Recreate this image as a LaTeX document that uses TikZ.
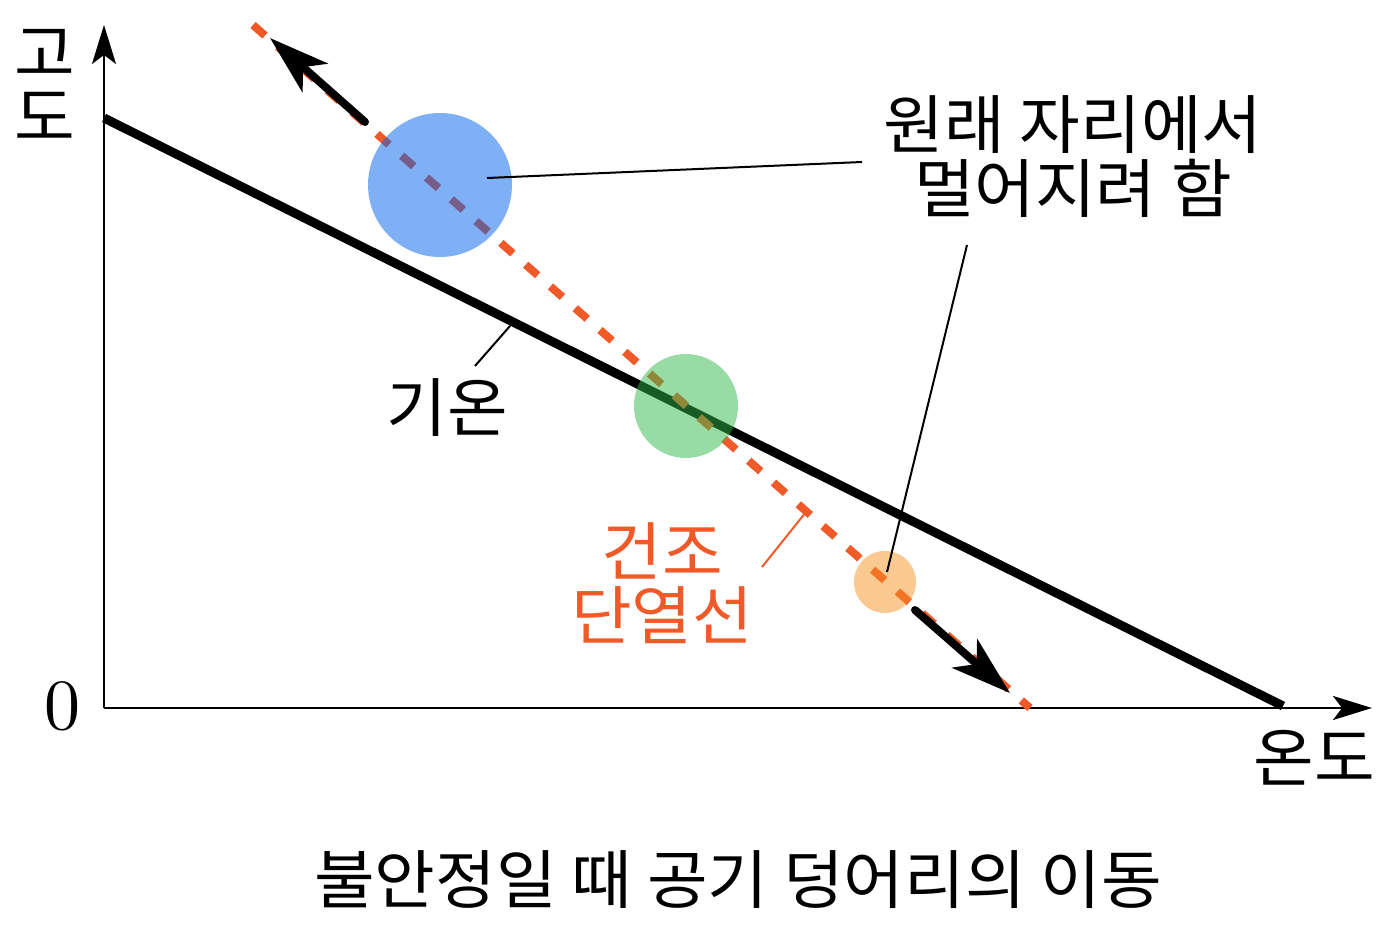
\documentclass[tikz,border=0pt]{standalone}
\usepackage{fontspec}
\setmainfont{Noto Sans CJK KR}[FakeStretch=1.03]
\newfontfamily\lmfont{lmroman10-regular}[Extension=.otf]
\usetikzlibrary{arrows.meta}
\definecolor{dryorange}{RGB}{240,90,40}
\definecolor{parcelblue}{RGB}{0,97,235}
\definecolor{parcelgreen}{RGB}{51,183,75}
\definecolor{parcelorange}{RGB}{245,145,35}
\begin{document}
\begin{tikzpicture}[x=1pt,y=-1pt,
  axis/.style={line width=2.5pt,-{Stealth[length=39pt,width=24pt,inset=9pt]}},
  tline/.style={line width=9pt},
  adiab/.style={draw=dryorange,line width=8pt,dash pattern=on 16pt off 17pt},
  parcel/.style={circle,inner sep=0pt,draw=none,fill opacity=0.5},
  movearrow/.style={line width=8pt,line cap=round,-{Stealth[length=60pt,width=38pt,inset=16pt]}},
  leader/.style={line width=2pt},
  lbl/.style={font=\fontsize{64}{64}\selectfont,align=center,inner sep=0pt},
]
\useasboundingbox (0,0) rectangle (1393,931);
% axes
\coordinate (origin) at (104,708);
\coordinate (ytip) at (104,25);
\coordinate (xtip) at (1372,708);
\draw[axis] (origin) -- (ytip);
\draw[axis] (origin) -- (xtip);
% temperature line
\coordinate (t1) at (104,118);
\coordinate (t2) at (1283,706);
\draw[tline] (t1) -- (t2);
% dry adiabat
\coordinate (d1) at (253,25);
\coordinate (d2) at (1030,708);
\draw[adiab] (d1) -- (d2);
% movement arrows
\coordinate (a1s) at (365,122);
\coordinate (a1e) at (270,38);
\coordinate (a2s) at (915,610);
\coordinate (a2e) at (1010,693);
\draw[movearrow] (a1s) -- (a1e);
\draw[movearrow] (a2s) -- (a2e);
% parcels
\node[parcel,fill=parcelblue,minimum size=144pt] (pblue) at (440,185) {};
\node[parcel,fill=parcelgreen,minimum size=104pt] (pgreen) at (686,406) {};
\node[parcel,fill=parcelorange,minimum size=62pt] (porange) at (885,582) {};
% labels
\node[lbl] (ylab) at (45,85) {고\\도};
\node[inner sep=0pt,font=\lmfont\fontsize{72}{72}\selectfont] (zero) at (63,706) {0};
\node[lbl] (xlab) at (1314,758) {온도};
\node[lbl] (far) at (1073,157) {원래 자리에서\\멀어지려 함};
\node[lbl] (tlab) at (447,408) {기온};
\node[lbl,text=dryorange] (alab) at (662,583) {건조\\단열선};
\node[lbl] (title) at (738,880) {불안정일 때 공기 덩어리의 이동};
% leaders
\coordinate (lf1) at (862,162);
\coordinate (lb1) at (487,178);
\coordinate (lf2) at (967,245);
\coordinate (lo1) at (887,572);
\coordinate (lt1) at (475,366);
\coordinate (lt2) at (510,326);
\coordinate (la1) at (762,567);
\coordinate (la2) at (806,512);
\draw[leader] (lf1) -- (lb1);
\draw[leader] (lf2) -- (lo1);
\draw[leader] (lt1) -- (lt2);
\draw[leader,draw=dryorange] (la1) -- (la2);
\end{tikzpicture}
\end{document}
